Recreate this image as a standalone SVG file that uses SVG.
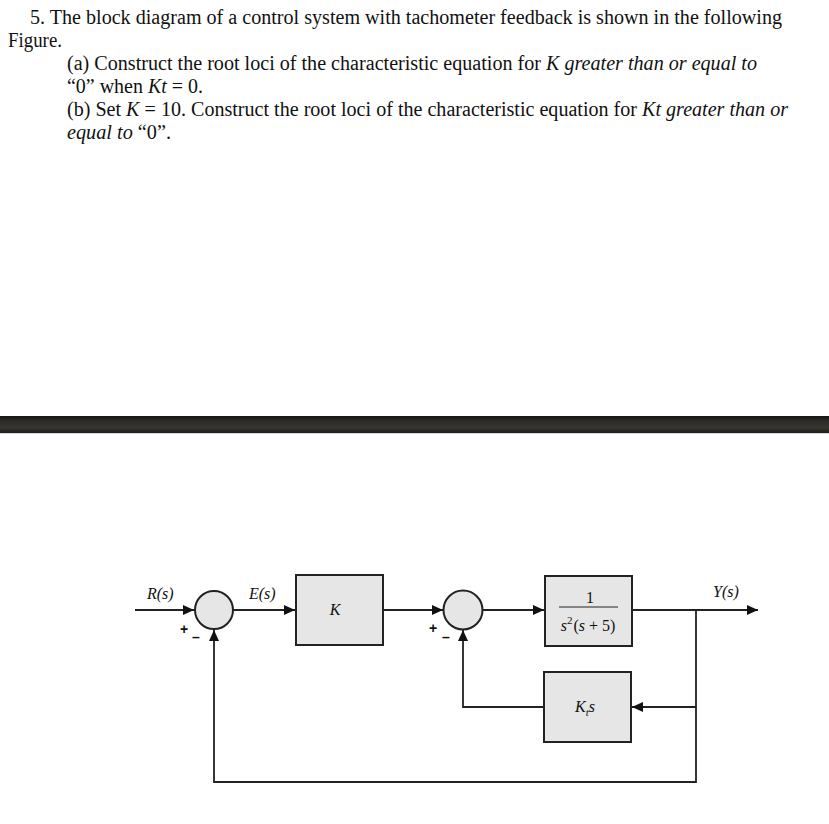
<svg xmlns="http://www.w3.org/2000/svg" width="829" height="824" viewBox="0 0 829 824">
<defs>
<linearGradient id="band" x1="0" y1="0" x2="0" y2="1">
<stop offset="0" stop-color="#141412"/>
<stop offset="0.3" stop-color="#2e2c28"/>
<stop offset="0.7" stop-color="#38352f"/>
<stop offset="1" stop-color="#1e1d1a"/>
</linearGradient>
<marker id="arr" markerUnits="userSpaceOnUse" markerWidth="12" markerHeight="10" refX="11" refY="5" orient="auto">
<path d="M0,0 L11,5 L0,10 z" fill="#111"/>
</marker>
<style>
.q{font-family:"Liberation Serif","Times New Roman",serif;font-size:20px;fill:#111}
.i{font-style:italic}
.lb{font-family:"Liberation Serif","Times New Roman",serif;font-size:16px;fill:#111;font-style:italic}
.blk{fill:#e6e6e6;stroke:#222;stroke-width:2}
.sum{fill:#e6e6e6;stroke:#222;stroke-width:2}
.ln{fill:none;stroke:#222;stroke-width:1.8}
.sg{font-family:"Liberation Sans",Arial,sans-serif;font-size:14px;font-weight:bold;fill:#111}
</style>
</defs>
<rect width="829" height="824" fill="#fff"/>

<g id="question">
<text class="q" x="30" y="24" textLength="752" lengthAdjust="spacingAndGlyphs">5. The block diagram of a control system with tachometer feedback is shown in the following</text>
<text class="q" x="8" y="47" textLength="54" lengthAdjust="spacingAndGlyphs">Figure.</text>
<text class="q" x="67" y="70" textLength="690" lengthAdjust="spacingAndGlyphs">(a) Construct the root loci of the characteristic equation for <tspan class="i">K greater than or equal to</tspan></text>
<text class="q" x="67" y="93" textLength="136" lengthAdjust="spacingAndGlyphs">“0” when <tspan class="i">Kt</tspan> = 0.</text>
<text class="q" x="67" y="116" textLength="721" lengthAdjust="spacingAndGlyphs">(b) Set <tspan class="i">K</tspan> = 10. Construct the root loci of the characteristic equation for <tspan class="i">Kt greater than or</tspan></text>
<text class="q" x="67" y="139" textLength="104" lengthAdjust="spacingAndGlyphs"><tspan class="i">equal to</tspan>  “0”.</text>
</g>

<rect id="band" x="0" y="416" width="829" height="17" fill="url(#band)"/>
<rect x="0" y="433" width="829" height="1" fill="#d8d8d4"/>

<g id="connectors">
<path class="ln" d="M135,610 H194" marker-end="url(#arr)"/>
<path class="ln" d="M233,610 H295" marker-end="url(#arr)"/>
<path class="ln" d="M383,610 H443" marker-end="url(#arr)"/>
<path class="ln" d="M483,610 H544" marker-end="url(#arr)"/>
<path class="ln" d="M632,610 H758" marker-end="url(#arr)"/>
<path class="ln" d="M696,610 V782 H214 V630" marker-end="url(#arr)"/>
<path class="ln" d="M696,707 H632" marker-end="url(#arr)"/>
<path class="ln" d="M544,707 H463 V630" marker-end="url(#arr)"/>
</g>

<g id="sum1">
<circle class="sum" cx="214" cy="610" r="19"/>
<text class="sg" x="180" y="634">+</text>
<text class="sg" x="192" y="642">–</text>
</g>

<g id="sum2">
<circle class="sum" cx="463" cy="610" r="19.5"/>
<text class="sg" x="429" y="633">+</text>
<text class="sg" x="442" y="642">–</text>
</g>

<g id="blockK">
<rect class="blk" x="296" y="575" width="87" height="70"/>
<text class="lb" x="335" y="615" text-anchor="middle">K</text>
</g>

<g id="blockG">
<rect class="blk" x="545" y="576" width="87" height="70"/>
<text class="lb" x="590" y="603" text-anchor="middle" style="font-style:normal">1</text>
<line x1="559" y1="607" x2="618" y2="607" stroke="#222" stroke-width="1"/>
<text class="lb" x="588" y="631" text-anchor="middle">s<tspan font-size="11" dy="-7" font-style="normal">2</tspan><tspan dy="7" dx="1" font-style="normal">(</tspan>s<tspan font-style="normal"> + 5)</tspan></text>
</g>

<g id="blockKt">
<rect class="blk" x="544" y="672" width="87" height="70"/>
<text class="lb" x="585" y="712" text-anchor="middle">K<tspan font-size="11" dy="4">t</tspan><tspan dy="-4">s</tspan></text>
</g>

<g id="labels">
<text class="lb" x="147" y="599">R(s)</text>
<text class="lb" x="249" y="599">E(s)</text>
<text class="lb" x="713" y="597">Y(s)</text>
</g>
</svg>
